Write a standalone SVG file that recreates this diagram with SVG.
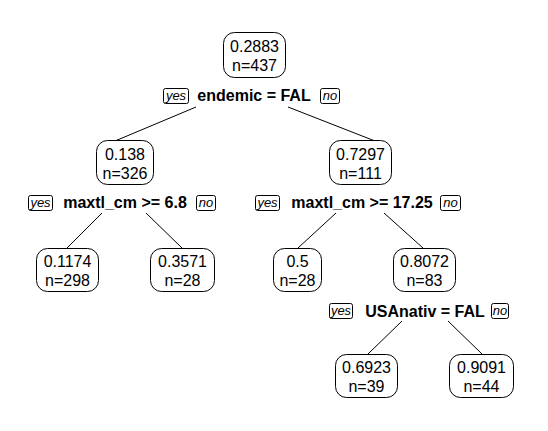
<svg xmlns="http://www.w3.org/2000/svg" width="548" height="431" viewBox="0 0 548 431">
<style>
.node rect{fill:#fff;stroke:#000;stroke-width:1}
.node text{font-family:"Liberation Sans",Arial,sans-serif;font-size:16px;text-anchor:middle;fill:#000}
.split{font-family:"Liberation Sans",Arial,sans-serif;font-size:16px;font-weight:bold;text-anchor:middle;fill:#000}
.yn rect{fill:#fff;stroke:#000;stroke-width:1}
.yn text{font-family:"Liberation Sans",Arial,sans-serif;font-size:13px;font-style:italic;text-anchor:middle;fill:#000}
#edges line{stroke:#000;stroke-width:1}
</style>
<rect width="548" height="431" fill="#fff"/>
<g id="edges">
<line x1="196" y1="107" x2="115" y2="141"/>
<line x1="288" y1="107" x2="375" y2="141"/>
<line x1="102" y1="213" x2="67" y2="248"/>
<line x1="146" y1="213" x2="182" y2="248"/>
<line x1="336" y1="213" x2="298" y2="248"/>
<line x1="384" y1="213" x2="423" y2="248"/>
<line x1="402" y1="321" x2="368" y2="354"/>
<line x1="448" y1="321" x2="482" y2="354"/>
</g>
<g id="split1">
<g class="yn"><rect x="163.5" y="88.5" width="25" height="15" rx="2"/><text x="176" y="100">yes</text></g>
<text class="split" x="254" y="101">endemic = FAL</text>
<g class="yn"><rect x="320.5" y="88.5" width="19" height="15" rx="2"/><text x="330" y="100">no</text></g>
</g>
<g id="split2">
<g class="yn"><rect x="28.5" y="195.5" width="24" height="15" rx="2"/><text x="40.5" y="207">yes</text></g>
<text class="split" x="125" y="208">maxtl_cm &gt;= 6.8</text>
<g class="yn"><rect x="196.5" y="195.5" width="19" height="15" rx="2"/><text x="206" y="207">no</text></g>
</g>
<g id="split3">
<g class="yn"><rect x="255.5" y="195.5" width="24" height="15" rx="2"/><text x="267.5" y="207">yes</text></g>
<text class="split" x="362" y="208">maxtl_cm &gt;= 17.25</text>
<g class="yn"><rect x="440.5" y="195.5" width="20" height="15" rx="2"/><text x="450.5" y="207">no</text></g>
</g>
<g id="split7">
<g class="yn"><rect x="329.5" y="303.5" width="23" height="15" rx="2"/><text x="341" y="315">yes</text></g>
<text class="split" x="425" y="317">USAnativ = FAL</text>
<g class="yn"><rect x="491.5" y="303.5" width="17" height="15" rx="2"/><text x="500" y="315">no</text></g>
</g>
<g id="n1" class="node"><rect x="223.5" y="32.5" width="62" height="45" rx="11"/><text x="254.5" y="52">0.2883</text><text x="254.5" y="71">n=437</text></g>
<g id="n2" class="node"><rect x="96.5" y="140.5" width="57" height="44" rx="11"/><text x="125" y="160">0.138</text><text x="125" y="179">n=326</text></g>
<g id="n3" class="node"><rect x="329.5" y="140.5" width="62" height="44" rx="11"/><text x="360.5" y="160">0.7297</text><text x="360.5" y="179">n=111</text></g>
<g id="n4" class="node"><rect x="36.5" y="248.5" width="62" height="43" rx="11"/><text x="67.5" y="267">0.1174</text><text x="67.5" y="286">n=298</text></g>
<g id="n5" class="node"><rect x="150.5" y="248.5" width="64" height="43" rx="11"/><text x="182.5" y="267">0.3571</text><text x="182.5" y="286">n=28</text></g>
<g id="n6" class="node"><rect x="273.5" y="248.5" width="48" height="43" rx="11"/><text x="297.5" y="267">0.5</text><text x="297.5" y="286">n=28</text></g>
<g id="n7" class="node"><rect x="393.5" y="248.5" width="62" height="43" rx="11"/><text x="424.5" y="267">0.8072</text><text x="424.5" y="286">n=83</text></g>
<g id="n14" class="node"><rect x="335.5" y="354.5" width="62" height="43" rx="11"/><text x="366.5" y="373">0.6923</text><text x="366.5" y="392">n=39</text></g>
<g id="n15" class="node"><rect x="449.5" y="354.5" width="64" height="43" rx="11"/><text x="481.5" y="373">0.9091</text><text x="481.5" y="392">n=44</text></g>
</svg>
